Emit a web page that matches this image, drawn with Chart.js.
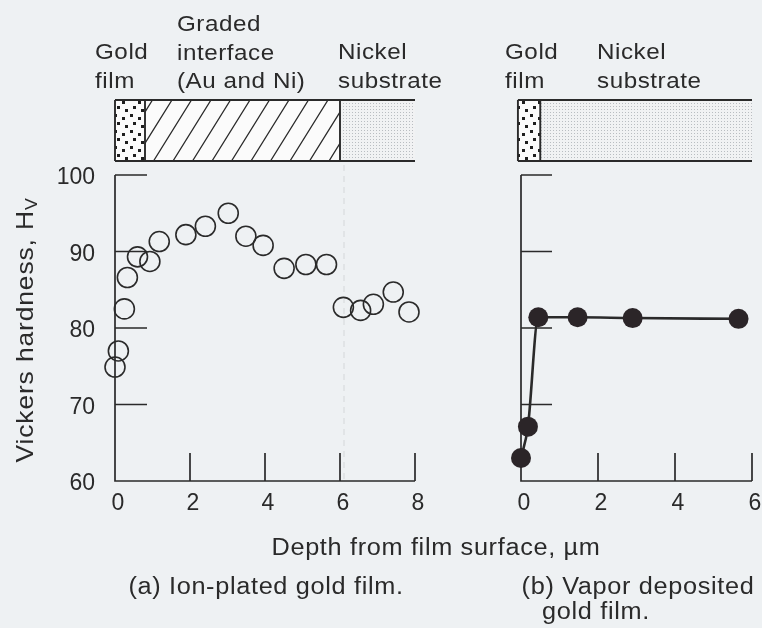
<!DOCTYPE html>
<html>
<head>
<meta charset="utf-8">
<script src="https://cdn.jsdelivr.net/npm/chart.js@4.4.1/dist/chart.umd.min.js"></script>
<style>
  html, body { margin: 0; padding: 0; background: #eef1f3; }
  #wrap { position: relative; width: 762px; height: 628px; overflow: hidden; }
  #wrap canvas { position: absolute; left: 0; top: 0; }
</style>
</head>
<body>
<div id="wrap">
  <canvas id="chartA" width="762" height="628"></canvas>
  <canvas id="chartB" width="762" height="628"></canvas>
</div>
<script>
// (a) ion-plated gold film: depth (um) vs Vickers hardness
const depthA = [0, 0.09, 0.25, 0.33, 0.6, 0.93, 1.18, 1.89, 2.41, 3.02, 3.49, 3.95, 4.51, 5.09, 5.64, 6.09, 6.55, 6.89, 7.42, 7.84];
const hardA = [74.9, 77.0, 82.5, 86.6, 89.3, 88.7, 91.3, 92.2, 93.3, 95.0, 92.0, 90.8, 87.8, 88.3, 88.3, 82.7, 82.3, 83.1, 84.7, 82.1];

// (b) vapor deposited gold film
const depthB = [0, 0.18, 0.45, 1.47, 2.9, 5.65];
const hardB = [63.0, 67.1, 81.4, 81.4, 81.3, 81.2];

const xTicksA = [0, 2, 4, 6, 8];
const xTicksB = [0, 2, 4, 6];
const yTicks = [60, 70, 80, 90, 100];

// layer boundaries in um for the little cross-section sketches
const layersA = [0, 0.8, 6, 8];
const kindsA = ["gold", "hatch", "nickel"];
const layersB = [-0.08, 0.5, 6];
const kindsB = ["gold", "nickel"];

const ink = "#2a2a2a";
const font = (px) => px + 'px "Liberation Sans", Arial, sans-serif';

function spaced(ctx, px) {
  if ("letterSpacing" in ctx) ctx.letterSpacing = px + "px";
}

// scanned lettering is a bit wider than Liberation Sans, so stretch it a little
function wideText(ctx, text, x, y) {
  ctx.save();
  ctx.translate(x, y);
  ctx.scale(1.1, 1);
  ctx.fillText(text, 0, 0);
  ctx.restore();
}

function goldPattern(ctx) {
  const c = document.createElement("canvas");
  c.width = 16; c.height = 16;
  const g = c.getContext("2d");
  g.fillStyle = "#fbfbfb"; g.fillRect(0, 0, 16, 16);
  g.fillStyle = "#1e1e1e";
  [[2, 2], [10, 5], [5, 10], [13, 13]].forEach(([a, b]) => g.fillRect(a, b, 3, 3));
  return ctx.createPattern(c, "repeat");
}

function stipplePattern(ctx) {
  const c = document.createElement("canvas");
  c.width = 3; c.height = 3;
  const g = c.getContext("2d");
  g.fillStyle = "#f1f2f3"; g.fillRect(0, 0, 3, 3);
  g.fillStyle = "#b9bdc1"; g.fillRect(1, 1, 1, 1);
  return ctx.createPattern(c, "repeat");
}

const frame = {
  id: "frame",
  beforeDatasetsDraw(chart, args, o) {
    const { ctx, chartArea: a, scales: { x, y } } = chart;
    ctx.save();
    if (o.dashAt != null) {
      ctx.strokeStyle = "rgba(0,0,0,0.09)";
      ctx.lineWidth = 1.2;
      ctx.setLineDash([6, 5]);
      const p = x.getPixelForValue(o.dashAt) + 4;
      ctx.beginPath(); ctx.moveTo(p, 165); ctx.lineTo(p, a.bottom); ctx.stroke();
      ctx.setLineDash([]);
    }
    ctx.strokeStyle = ink;
    ctx.lineWidth = 1.7;
    ctx.beginPath();
    ctx.moveTo(a.left, a.top); ctx.lineTo(a.left, a.bottom); ctx.lineTo(a.right, a.bottom);
    yTicks.forEach(v => {
      if (v === y.min) return;
      const p = y.getPixelForValue(v);
      ctx.moveTo(a.left, p); ctx.lineTo(a.left + o.tickLen, p);
    });
    o.xTicks.forEach(v => {
      if (v === x.min) return;
      const p = x.getPixelForValue(v);
      ctx.moveTo(p, a.bottom); ctx.lineTo(p, a.bottom - 28);
    });
    ctx.stroke();

    ctx.fillStyle = ink;
    ctx.font = font(23);
    ctx.textAlign = "center"; ctx.textBaseline = "middle";
    o.xTicks.forEach(v => ctx.fillText(String(v), x.getPixelForValue(v) + 3, a.bottom + 23));
    if (o.yLabels) {
      ctx.textAlign = "right";
      yTicks.forEach(v => ctx.fillText(String(v), a.left - 20, y.getPixelForValue(v) + 3));
    }
    ctx.restore();
  },
  afterDraw(chart, args, o) {
    const { ctx, scales: { x } } = chart;
    const bx = o.layers.map(v => x.getPixelForValue(v));
    const top = 100, bot = 161;
    ctx.save();
    o.kinds.forEach((k, i) => {
      const x0 = bx[i], x1 = bx[i + 1];
      if (k === "gold") { ctx.fillStyle = goldPattern(ctx); ctx.fillRect(x0, top, x1 - x0, bot - top); }
      if (k === "nickel") { ctx.fillStyle = stipplePattern(ctx); ctx.fillRect(x0, top, x1 - x0, bot - top); }
      if (k === "hatch") {
        ctx.fillStyle = "#fbfbfb"; ctx.fillRect(x0, top, x1 - x0, bot - top);
        ctx.save();
        ctx.beginPath(); ctx.rect(x0, top, x1 - x0, bot - top); ctx.clip();
        ctx.strokeStyle = ink; ctx.lineWidth = 1.3;
        ctx.beginPath();
        for (let s = x0 - 50; s < x1 + 10; s += 19.5) {
          ctx.moveTo(s, bot); ctx.lineTo(s + 38, top);
        }
        ctx.stroke();
        ctx.restore();
      }
    });
    ctx.strokeStyle = ink; ctx.lineWidth = 1.9;
    ctx.beginPath();
    ctx.moveTo(bx[0], top); ctx.lineTo(bx[bx.length - 1], top);
    ctx.moveTo(bx[0], bot); ctx.lineTo(bx[bx.length - 1], bot);
    for (let i = 0; i < bx.length - 1; i++) { ctx.moveTo(bx[i], top); ctx.lineTo(bx[i], bot); }
    ctx.stroke();

    ctx.fillStyle = ink;
    ctx.textAlign = "left"; ctx.textBaseline = "alphabetic";
    ctx.font = font(22);
    spaced(ctx, 0.5);
    o.heads.forEach(h => h.lines.forEach((t, j) => wideText(ctx, t, h.x, h.y + j * 28.5)));

    ctx.textAlign = "center";
    ctx.font = font(23);
    spaced(ctx, 0.6);
    o.notes.forEach(n => wideText(ctx, n.text, n.x, n.y));

    if (o.yTitle) {
      ctx.save();
      ctx.translate(26, 330);
      ctx.rotate(-Math.PI / 2);
      ctx.scale(1.1, 1);
      const main = "Vickers hardness, H";
      ctx.font = font(24);
      spaced(ctx, 0.8);
      const wm = ctx.measureText(main).width;
      ctx.font = font(16);
      const ws = ctx.measureText("V").width;
      const start = -(wm + ws) / 2;
      ctx.textAlign = "left"; ctx.textBaseline = "middle";
      ctx.font = font(24);
      ctx.fillText(main, start, 0);
      ctx.font = font(16);
      ctx.fillText("V", start + wm, 7);
      ctx.restore();
    }
    ctx.restore();
  }
};

function makeChart(id, data, opts) {
  return new Chart(document.getElementById(id), {
    type: "scatter",
    data: { datasets: [data] },
    options: {
      responsive: false,
      animation: false,
      layout: { padding: opts.padding },
      plugins: { legend: { display: false }, tooltip: { enabled: false }, frame: opts.frame },
      scales: {
        x: { type: "linear", min: opts.xMin, max: opts.xMax, display: false },
        y: { type: "linear", min: 60, max: 100, display: false }
      }
    },
    plugins: [frame]
  });
}

makeChart("chartA", {
  data: depthA.map((d, i) => ({ x: d, y: hardA[i] })),
  showLine: false,
  clip: false,
  pointRadius: 10,
  pointBorderWidth: 1.6,
  pointBackgroundColor: "rgba(0,0,0,0)",
  pointBorderColor: ink
}, {
  padding: { left: 115, right: 347, top: 175, bottom: 147 },
  xMin: 0, xMax: 8,
  frame: {
    xTicks: xTicksA, tickLen: 32, yLabels: true, yTitle: true, dashAt: 6,
    layers: layersA, kinds: kindsA,
    heads: [
      { x: 95, y: 59, lines: ["Gold", "film"] },
      { x: 177, y: 31, lines: ["Graded", "interface", "(Au and Ni)"] },
      { x: 338, y: 59, lines: ["Nickel", "substrate"] }
    ],
    notes: [
      { text: "Depth from film surface, \u00b5m", x: 436, y: 555 },
      { text: "(a) Ion-plated gold film.", x: 266, y: 594 }
    ]
  }
});

makeChart("chartB", {
  data: depthB.map((d, i) => ({ x: d, y: hardB[i] })),
  showLine: true,
  clip: false,
  cubicInterpolationMode: "monotone",
  borderColor: ink,
  borderWidth: 2.6,
  pointRadius: 10,
  pointBorderWidth: 0,
  pointBackgroundColor: "#2b2528"
}, {
  padding: { left: 521, right: 10, top: 175, bottom: 147 },
  xMin: 0, xMax: 6,
  frame: {
    xTicks: xTicksB, tickLen: 31, yLabels: false, yTitle: false,
    layers: layersB, kinds: kindsB,
    heads: [
      { x: 505, y: 59, lines: ["Gold", "film"] },
      { x: 597, y: 59, lines: ["Nickel", "substrate"] }
    ],
    notes: [
      { text: "(b) Vapor deposited", x: 638, y: 594 },
      { text: "gold film.", x: 596, y: 619 }
    ]
  }
});
</script>
</body>
</html>
